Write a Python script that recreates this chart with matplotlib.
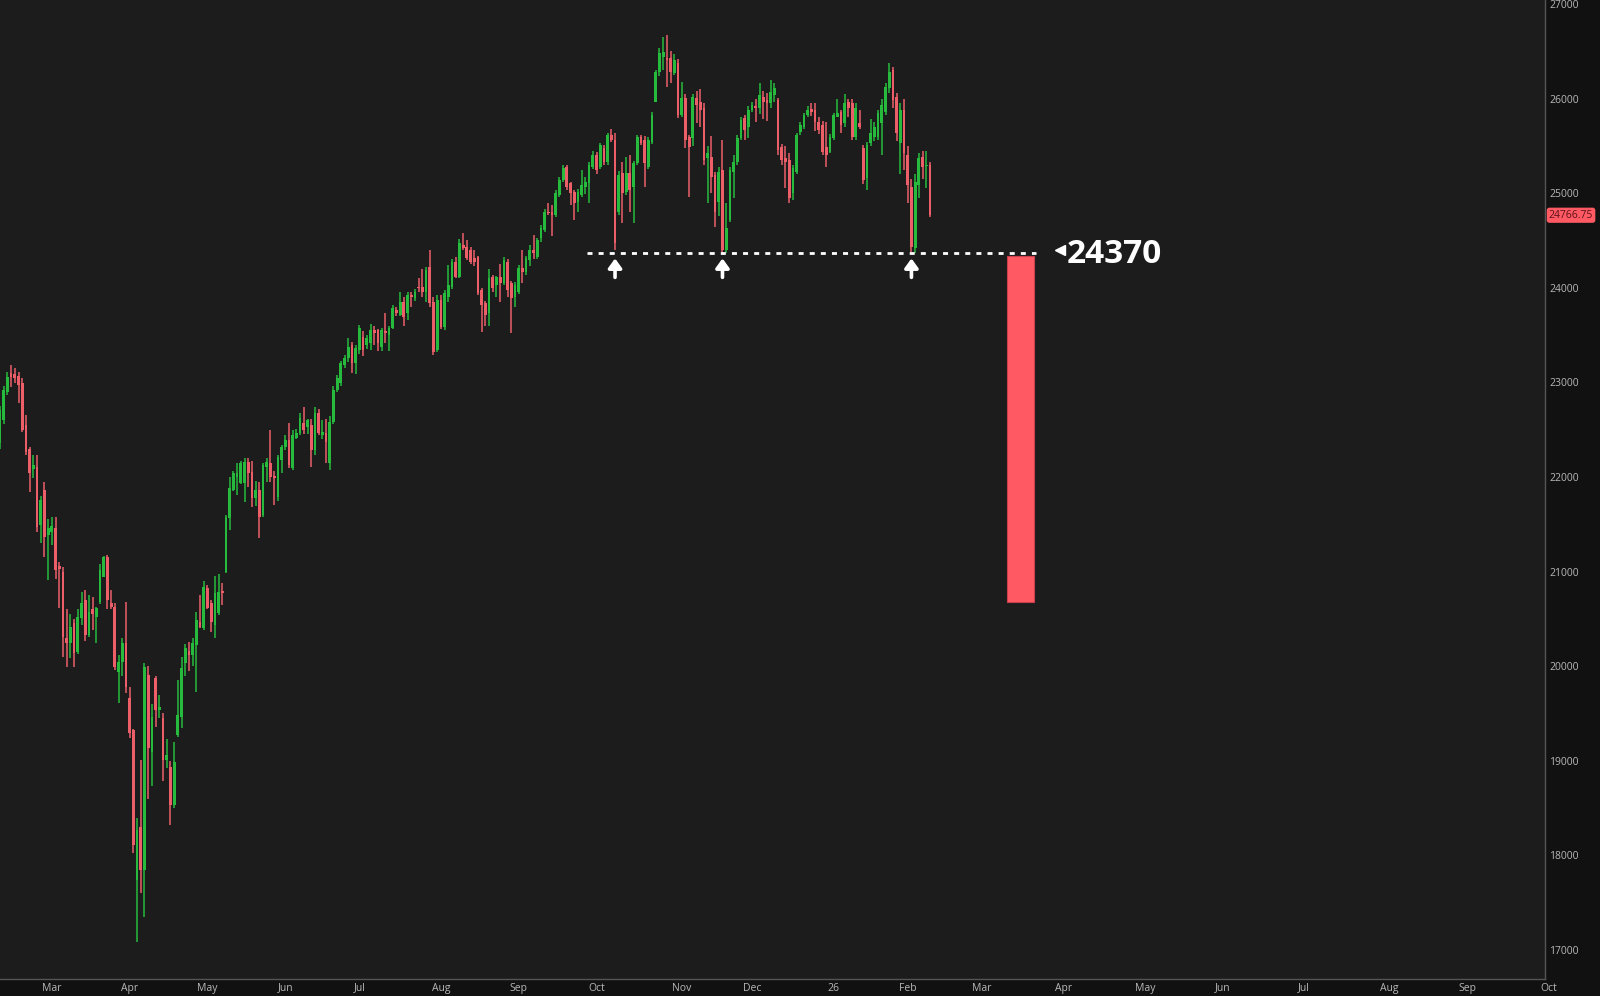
#!/usr/bin/env python3
# -*- coding: utf-8 -*-

import numpy as np
import pandas as pd
import matplotlib
matplotlib.use("Agg")
import matplotlib.pyplot as plt
import matplotlib.transforms as mtrans
from matplotlib.patches import Rectangle
from pandas.tseries.offsets import CustomBusinessDay

# --- daily candles, 2025-02-10 .. 2026-02-10
opens = [
    22359, 22602, 22898, 23100, 23090, 23070, 22994, 22550, 22300, 22080, 22105, 21493,
    21863, 21387, 21420, 21461, 21060, 20996, 20298, 20245, 20457, 20150, 20509, 20700,
    20330, 20600, 20520, 20679, 20943, 21154, 20668, 20626, 19939, 20044, 20245, 19664,
    19325, 17740, 18300, 17845, 19907, 19093, 19875, 19537, 19452, 19008, 18934, 18532,
    19273, 19463, 20034, 20160, 20118, 20224, 20467, 20404, 20827, 20668, 20435, 20562,
    20790, 20996, 21567, 21863, 22000, 21937, 21937, 22159, 22053, 21778, 21863, 21598,
    22105, 22148, 22010, 21789, 22180, 22317, 22391, 22095, 22412, 22465, 22570, 22530,
    22550, 22285, 22676, 22444, 22465, 22148, 22581, 22920, 22994, 23184, 23258, 23395,
    23205, 23342, 23480, 23395, 23416, 23554, 23554, 23374, 23540, 23500, 23575, 23765,
    23712, 23850, 23734, 23924, 23892, 24008, 24008, 23956, 24220, 23850, 23342, 23871,
    23586, 23903, 24008, 24273, 24114, 24453, 24431, 24400, 24315, 24326, 23977, 23839,
    23734, 24114, 24030, 24114, 24051, 24273, 24051, 23903, 23956, 24209, 24167, 24294,
    24400, 24326, 24527, 24611, 24801, 24801, 24770, 24981, 25140, 25277, 25108, 25013,
    24907, 24981, 25065, 25108, 25277, 25404, 25277, 25478, 25330, 25615, 25562, 24801,
    25213, 25013, 25213, 25065, 25319, 25594, 25562, 25277, 25541, 25964, 26281, 26440,
    26430, 26429, 26271, 26376, 25827, 26006, 25594, 25584, 26006, 25964, 25901, 25372,
    25383, 25192, 24907, 25245, 24400, 24717, 25224, 25330, 25584, 25795, 25700, 25880,
    25920, 25901, 26017, 25985, 25953, 26038, 25985, 25488, 25370, 25351, 25002, 25224,
    25647, 25700, 25827, 25890, 25880, 25753, 25721, 25488, 25436, 25584, 25806, 25858,
    25742, 25964, 25953, 25594, 25742, 25478, 25161, 25531, 25594, 25594, 25742, 25858,
    26112, 26302, 26017, 25531, 25880, 25404, 25065, 24421, 25087, 25383, 25290, 25298,
]
highs = [
    22750, 22960, 23110, 23180, 23150, 23110, 23050, 22656, 22320, 22230, 22233, 21800,
    21947, 21560, 21580, 21580, 21100, 21050, 20600, 20550, 20500, 20600, 20780, 20810,
    20750, 20730, 20630, 21080, 21160, 21180, 20805, 20670, 20118, 20300, 20679, 19780,
    19340, 18400, 19008, 20030, 20000, 19600, 19900, 19700, 19500, 19230, 19000, 19200,
    19850, 20100, 20230, 20260, 20300, 20570, 20752, 20900, 20860, 20700, 20950, 20970,
    20880, 21600, 22000, 22060, 22150, 22170, 22200, 22200, 22170, 21960, 21950, 22150,
    22200, 22500, 22060, 22230, 22340, 22440, 22570, 22500, 22510, 22680, 22740, 22610,
    22610, 22740, 22720, 22600, 22610, 22640, 22960, 23080, 23230, 23290, 23470, 23430,
    23400, 23607, 23540, 23500, 23620, 23600, 23560, 23580, 23730, 23600, 23820, 23800,
    23950, 23900, 23950, 23950, 23990, 24100, 24200, 24220, 24400, 23900, 23920, 23920,
    23980, 24240, 24300, 24320, 24520, 24580, 24500, 24430, 24400, 24340, 24000, 23860,
    24200, 24140, 24120, 24250, 24320, 24300, 24070, 24060, 24240, 24400, 24340, 24450,
    24560, 24530, 24660, 24830, 24900, 24880, 25030, 25170, 25300, 25300, 25120, 25030,
    25040, 25250, 25170, 25330, 25450, 25430, 25530, 25510, 25640, 25680, 25640, 25230,
    25330, 25380, 25400, 25340, 25620, 25620, 25600, 25590, 25860, 26300, 26530, 26651,
    26672, 26500, 26470, 26420, 26170, 26050, 25620, 26050, 26080, 26100, 25950, 25500,
    25600, 25220, 25280, 25560, 24900, 25280, 25400, 25620, 25800, 25830, 25920, 25960,
    26000, 26160, 26080, 26060, 26200, 26160, 26010, 25520, 25500, 25420, 25300, 25640,
    25750, 25850, 25920, 25950, 25950, 25800, 25760, 25750, 25630, 25850, 26000, 25880,
    26050, 26000, 26000, 25950, 25880, 25510, 25540, 25780, 25750, 25880, 26000, 26160,
    26376, 26330, 26060, 25950, 26000, 25500, 25150, 25200, 25420, 25450, 25450, 25330,
]
lows = [
    22300, 22560, 22870, 22951, 22990, 22780, 22480, 22230, 21840, 21990, 21420, 21302,
    21154, 20911, 21280, 20920, 20615, 20097, 19992, 20090, 19992, 20130, 20430, 20270,
    20310, 20380, 20245, 20660, 20940, 20600, 20600, 19960, 19611, 19900, 19717, 19240,
    18025, 17084, 17602, 17349, 18596, 18733, 19360, 19450, 18786, 18923, 18320, 18500,
    19250, 19350, 19900, 19950, 20000, 19730, 20400, 20380, 20600, 20360, 20300, 20540,
    20650, 20990, 21440, 21850, 21810, 21930, 21735, 21894, 21680, 21690, 21350, 21580,
    21947, 21950, 21704, 21750, 22042, 22290, 22100, 22070, 22400, 22440, 22450, 22450,
    22105, 22230, 22440, 22400, 22148, 22074, 22560, 22900, 22960, 23150, 23220, 23100,
    23090, 23300, 23280, 23350, 23340, 23400, 23330, 23330, 23420, 23330, 23560, 23700,
    23700, 23600, 23660, 23800, 23860, 23950, 23900, 23850, 23800, 23290, 23320, 23560,
    23550, 23850, 23990, 24100, 24100, 24400, 24290, 24250, 24230, 23920, 23533, 23600,
    23600, 23960, 23900, 23850, 24030, 23900, 23520, 23800, 23930, 24050, 24130, 24230,
    24300, 24300, 24480, 24590, 24770, 24550, 24750, 24960, 25120, 25030, 24880, 24720,
    24800, 24960, 24990, 24900, 25260, 25200, 25260, 25300, 25300, 25540, 24400, 24770,
    24685, 24980, 24800, 24685, 25300, 25510, 25065, 25260, 25520, 25964, 26240, 26300,
    26123, 26165, 26250, 25795, 25800, 25478, 24960, 25500, 25742, 25700, 25300, 24900,
    25002, 24643, 24760, 24370, 24370, 24690, 24950, 25300, 25560, 25560, 25580, 25860,
    25750, 25840, 25780, 25760, 25900, 25960, 25400, 25300, 25050, 24900, 24930, 25200,
    25620, 25680, 25800, 25820, 25660, 25630, 25400, 25277, 25420, 25560, 25800, 25640,
    25700, 25800, 25560, 25560, 25680, 25100, 25034, 25500, 25550, 25560, 25400, 25830,
    26060, 25900, 25550, 25200, 25250, 24900, 24380, 24368, 24950, 25150, 25050, 24750,
]
closes = [
    22708, 22920, 23057, 23060, 23050, 22970, 22497, 22264, 22042, 22127, 21471, 21757,
    21365, 21461, 21480, 21017, 21030, 20309, 20245, 20414, 20139, 20520, 20668, 20330,
    20573, 20550, 20615, 21017, 21154, 20700, 20626, 19992, 20044, 20245, 19780, 19294,
    18110, 18268, 17845, 19992, 19135, 19463, 19537, 19569, 19008, 19061, 18532, 18987,
    19484, 19981, 20192, 20118, 20245, 20488, 20414, 20837, 20615, 20467, 20774, 20784,
    20775, 21577, 21884, 22042, 22042, 22148, 22159, 22042, 21778, 21863, 21577, 22127,
    22159, 22000, 21990, 22211, 22317, 22391, 22127, 22444, 22465, 22623, 22497, 22600,
    22285, 22676, 22465, 22476, 22370, 22581, 22920, 23047, 23205, 23258, 23374, 23205,
    23363, 23575, 23342, 23469, 23554, 23522, 23416, 23554, 23522, 23575, 23787, 23734,
    23850, 23691, 23924, 23903, 23956, 23998, 23956, 24188, 23839, 23321, 23871, 23586,
    23945, 24030, 24273, 24114, 24474, 24421, 24315, 24273, 24273, 23945, 23818, 23712,
    24103, 23998, 24114, 24051, 24294, 23977, 23892, 24030, 24209, 24167, 24315, 24400,
    24370, 24505, 24632, 24801, 24790, 24770, 25002, 25140, 25266, 25065, 25002, 24896,
    25013, 25087, 25118, 25298, 25404, 25245, 25510, 25330, 25615, 25562, 24474, 25192,
    25002, 25213, 25030, 25319, 25594, 25531, 25319, 25562, 25827, 26281, 26482, 26493,
    26408, 26281, 26408, 25827, 26006, 25562, 25488, 26017, 25932, 25880, 25351, 25425,
    25171, 24801, 25224, 24400, 24632, 25245, 25330, 25584, 25774, 25668, 25880, 25932,
    25901, 26038, 25964, 25953, 26070, 26112, 25457, 25351, 25330, 24949, 25266, 25615,
    25721, 25827, 25880, 25858, 25753, 25668, 25436, 25404, 25594, 25827, 25848, 25721,
    25953, 25901, 25594, 25901, 25700, 25140, 25510, 25636, 25700, 25848, 25932, 26123,
    26281, 25985, 25636, 25880, 25425, 25087, 24431, 25118, 25372, 25277, 25300, 24766.75,
]

holidays = ['2025-02-17', '2025-04-18', '2025-05-26', '2025-06-19', '2025-07-04',
            '2025-09-01', '2025-11-27', '2025-12-25', '2026-01-01', '2026-01-19']

last_price = 24766.75
support = 24370
touch_bars = [166, 195, 246]       # the three tests of the support line
target_top = 24336
target_bottom = 20680
yticks = list(range(17000, 27001, 1000))

BG = '#1c1c1c'
PANEL = '#111111'
UP = '#26bb3c'
DOWN = '#ec5f69'
TXT = '#b8b8b8'


def buildAxis():
    # trading days for the candles, plain weekdays for the empty future part
    past = pd.date_range(end='2026-02-10', periods=len(closes),
                         freq=CustomBusinessDay(holidays=holidays))
    future = pd.bdate_range('2026-02-11', '2026-10-30')
    days = past.append(future)
    ticks, labels = [], []
    for i in range(1, len(days)):
        if days[i].month != days[i - 1].month:
            ticks.append(i)
            labels.append('26' if days[i].month == 1 else days[i].strftime('%b'))
    return ticks, labels


def drawCandles(ax):
    o = np.array(opens, dtype=float)
    h = np.array(highs, dtype=float)
    l = np.array(lows, dtype=float)
    c = np.array(closes, dtype=float)
    x = np.arange(len(c))
    col = np.where(c >= o, UP, DOWN)
    lo = np.minimum(o, c)
    hi = np.maximum(o, c)
    ax.vlines(x, np.minimum(l, lo), np.maximum(h, hi), colors=col, linewidth=1.1, zorder=2)
    ax.bar(x, np.maximum(hi - lo, 12), bottom=lo, width=0.74, color=col,
           linewidth=0, zorder=3)


if __name__ == "__main__":
    plt.close('all')

    W, H = 1600, 996
    # dark frame (price / time panels), lighter plot area
    fig = plt.figure(figsize=(W / 100, H / 100), dpi=100, facecolor=PANEL)

    ax = fig.add_axes([0, 17 / H, 1545 / W, 979 / H])
    ax.set_facecolor(BG)
    ax.set_xlim(0, 417)
    ax.set_ylim(16693, 27042)

    drawCandles(ax)

    # --- support line, tests and target box
    ax.hlines(support, 158.4, 279.6, colors='white', linewidth=2.0,
              linestyles=(0, (1.8, 2.2)), zorder=4)
    for b in touch_bars:
        ax.annotate('', xy=(b, 24310), xytext=(b, 24110),
                    arrowprops=dict(arrowstyle='-|>,head_width=0.4,head_length=0.55',
                                    color='white', lw=2.6, mutation_scale=10,
                                    shrinkA=0, shrinkB=0), zorder=5)
    ax.add_patch(Rectangle((271.8, target_bottom), 7.3, target_top - target_bottom,
                           facecolor='#ff5a64', edgecolor='#c8404c', linewidth=0.8,
                           zorder=4))
    ax.plot(286.2, support + 25, marker='<', color='white', markersize=7, zorder=5)
    ax.text(288.0, support + 25, '24370', color='white', fontsize=24, fontweight='bold',
            family='Open Sans', ha='left', va='center_baseline', zorder=5)

    # --- axes styling
    for s in ['left', 'top']:
        ax.spines[s].set_visible(False)
    for s in ['right', 'bottom']:
        ax.spines[s].set_color('#555555')
        ax.spines[s].set_linewidth(1.0)

    ax.yaxis.tick_right()
    ax.set_yticks(yticks)
    ax.set_yticklabels([str(v) for v in yticks], family='Open Sans', fontsize=7.5,
                       color=TXT)
    ax.tick_params(axis='y', length=0, pad=3)
    ax.set_xticks([])

    ticks, labels = buildAxis()
    trans = mtrans.blended_transform_factory(ax.transData, ax.transAxes)
    for t, lab in zip(ticks, labels):
        ax.text(t, -9 / 979, lab, transform=trans, ha='center', va='center',
                family='Open Sans', fontsize=7.5, color=TXT, clip_on=False)

    # --- last price tag
    trans_y = mtrans.blended_transform_factory(ax.transAxes, ax.transData)
    ax.text(1.0025, last_price, '%.2f' % last_price, transform=trans_y, ha='left',
            va='center', family='Open Sans', fontsize=7.5, color='#5a1018',
            bbox=dict(boxstyle='round,pad=0.2,rounding_size=0.25', fc='#ff5a64',
                      ec='none'), clip_on=False)

    fig.savefig('out.png', dpi=100, facecolor=PANEL)
